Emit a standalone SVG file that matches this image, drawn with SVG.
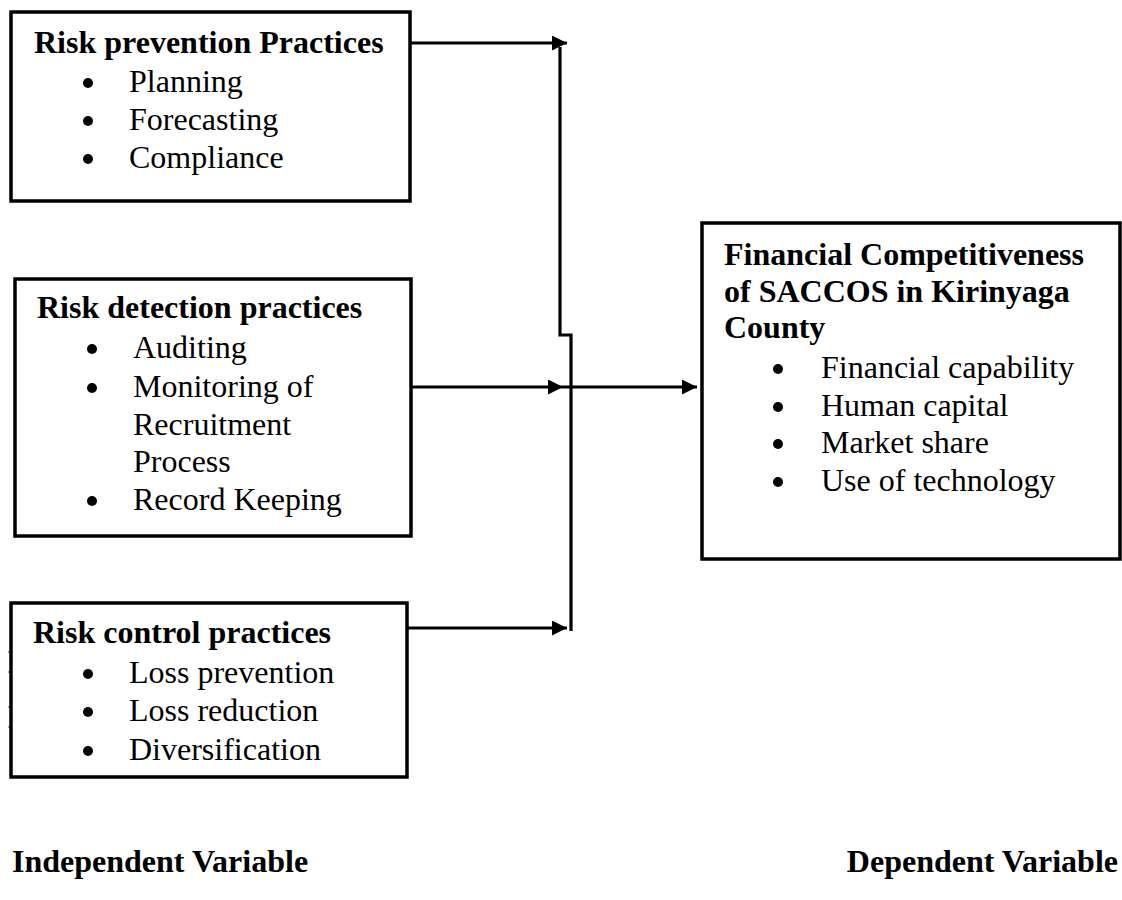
<svg xmlns="http://www.w3.org/2000/svg" width="1122" height="900" viewBox="0 0 1122 900">
<style>
.box{fill:#fff;stroke:#000;stroke-width:3.5}
.t{font-family:"Liberation Serif","Times New Roman",serif;font-size:32px;fill:#000}
.b{font-weight:bold}
.con{fill:none;stroke:#000;stroke-width:3.2}
.tick{stroke:#555;stroke-width:1}
</style>
<defs>
<marker id="ah" markerUnits="userSpaceOnUse" markerWidth="16" markerHeight="16" refX="15" refY="7.5" orient="auto">
<path d="M0,0 L15,7.5 L0,15 z" fill="#000"/>
</marker>
</defs>
<rect width="1122" height="900" fill="#fff"/>
<g id="connectors">
<line class="con" x1="410" y1="43" x2="567" y2="43" marker-end="url(#ah)"/>
<line class="con" x1="411" y1="387" x2="563" y2="387" marker-end="url(#ah)"/>
<line class="con" x1="563" y1="387" x2="697" y2="387" marker-end="url(#ah)"/>
<line class="con" x1="407" y1="628" x2="567" y2="628" marker-end="url(#ah)"/>
<path class="con" d="M560,47 V335 H571 V631"/>
</g>
<g id="ticks">
<line class="tick" x1="8" y1="652" x2="11" y2="652"/>
<line class="tick" x1="8" y1="672" x2="11" y2="672"/>
<line class="tick" x1="8" y1="707" x2="11" y2="707"/>
<line class="tick" x1="8" y1="727" x2="11" y2="727"/>
</g>
<g id="risk-prevention">
<rect class="box" x="11" y="12" width="399" height="189"/>
<text class="t b" x="34" y="53">Risk prevention Practices</text>
<circle cx="88" cy="83" r="5"/><text class="t" x="129" y="92">Planning</text>
<circle cx="88" cy="121" r="5"/><text class="t" x="129" y="130">Forecasting</text>
<circle cx="88" cy="159" r="5"/><text class="t" x="129" y="168">Compliance</text>
</g>
<g id="risk-detection">
<rect class="box" x="15" y="279" width="396" height="257"/>
<text class="t b" x="37" y="318">Risk detection practices</text>
<circle cx="92" cy="349" r="5"/><text class="t" x="133" y="358">Auditing</text>
<circle cx="92" cy="388" r="5"/><text class="t" x="133" y="397">Monitoring of</text>
<text class="t" x="133" y="435">Recruitment</text>
<text class="t" x="133" y="472">Process</text>
<circle cx="92" cy="501" r="5"/><text class="t" x="133" y="510">Record Keeping</text>
</g>
<g id="risk-control">
<rect class="box" x="11" y="603" width="396" height="174"/>
<text class="t b" x="33" y="643">Risk control practices</text>
<circle cx="88" cy="674" r="5"/><text class="t" x="129" y="683">Loss prevention</text>
<circle cx="88" cy="712" r="5"/><text class="t" x="129" y="721">Loss reduction</text>
<circle cx="88" cy="751" r="5"/><text class="t" x="129" y="760">Diversification</text>
</g>
<g id="financial-competitiveness">
<rect class="box" x="702" y="223" width="418" height="336"/>
<text class="t b" x="724" y="265">Financial Competitiveness</text>
<text class="t b" x="724" y="302">of SACCOS in Kirinyaga</text>
<text class="t b" x="724" y="338">County</text>
<circle cx="778" cy="369" r="5"/><text class="t" x="821" y="378">Financial capability</text>
<circle cx="778" cy="407" r="5"/><text class="t" x="821" y="416">Human capital</text>
<circle cx="778" cy="444" r="5"/><text class="t" x="821" y="453">Market share</text>
<circle cx="778" cy="482" r="5"/><text class="t" x="821" y="491">Use of technology</text>
</g>
<g id="labels">
<text class="t b" x="12" y="872">Independent Variable</text>
<text class="t b" x="1118" y="872" text-anchor="end">Dependent Variable</text>
</g>
</svg>
